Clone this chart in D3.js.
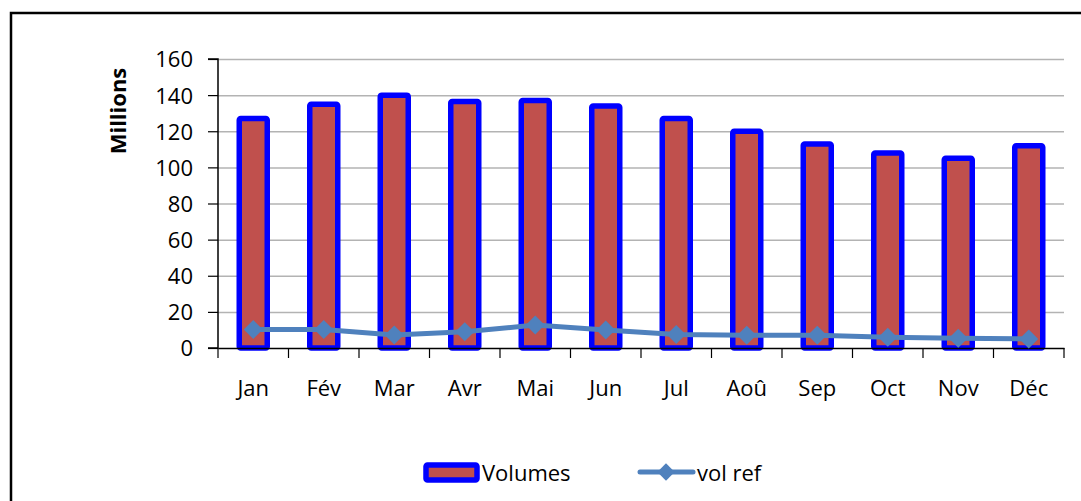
<!DOCTYPE html>
<head>
<meta charset="utf-8">
<style>
    body { margin: 0; background: #fff; }
    text { font-family: "Open Sans", "Liberation Sans", sans-serif; fill: #000; }
    .grid line { stroke: #b3b3b3; stroke-width: 1.5px; }
    .grid .domain { display: none; }
    .bar { fill: #c0504d; stroke: #0000ff; stroke-width: 5.5px; }
    .line1 { fill: none; stroke: #4f81bd; stroke-width: 5px; }
    .dot { fill: #4f81bd; }
</style>
<title>Volumes</title>
</head>

<body>
    <script src="https://d3js.org/d3.v7.min.js"></script>
    <script>
        // data
        const months = ['Jan', 'Fév', 'Mar', 'Avr', 'Mai', 'Jun', 'Jul', 'Aoû', 'Sep', 'Oct', 'Nov', 'Déc'];
        const volumes = [127, 135, 140, 136.5, 137, 134, 127, 120, 113, 108, 105, 112];
        const volRef = [10.3, 10.2, 7.2, 9, 12.7, 10, 7.5, 7, 7, 6, 5.4, 5];
        const yTicks = [0, 20, 40, 60, 80, 100, 120, 140, 160];

        const margin = { top: 59, right: 17, bottom: 153, left: 218 };
        const width = 1081 - margin.left - margin.right;
        const height = 501 - margin.top - margin.bottom;

        const svg = d3.select('body').append('svg')
            .attr('width', 1081)
            .attr('height', 501);

        // outer frame
        svg.append('rect')
            .attr('x', 11).attr('y', 13)
            .attr('width', 1100).attr('height', 520)
            .attr('fill', 'none')
            .attr('stroke', '#000')
            .attr('stroke-width', 2.5);

        const g = svg.append('g')
            .attr('transform', `translate(${margin.left},${margin.top})`);

        const x = d3.scaleBand().domain(months).range([0, width]);
        const y = d3.scaleLinear().domain([0, 160]).range([height, 0]);

        // gridlines
        g.append('g')
            .attr('class', 'grid')
            .call(d3.axisLeft(y).tickValues(yTicks.slice(1)).tickSize(-width).tickFormat(''));

        // bars
        const barW = 28;
        g.selectAll('.bar')
            .data(volumes)
            .enter().append('rect')
            .attr('class', 'bar')
            .attr('x', (d, i) => x(months[i]) + x.bandwidth() / 2 - barW / 2)
            .attr('y', d => y(d))
            .attr('width', barW)
            .attr('height', d => height - y(d))
            .attr('rx', 1.5);

        // y axis
        const yAxis = g.append('g')
            .call(d3.axisLeft(y).tickValues(yTicks).tickSize(10).tickPadding(15));
        yAxis.select('.domain').attr('stroke', '#000').attr('stroke-width', 1.5).attr('d', `M-10,0H0V${height}H-10`);
        yAxis.selectAll('line').attr('stroke', '#000').attr('stroke-width', 1.2);
        yAxis.selectAll('text').attr('font-size', '22px').attr('dy', '0.36em');

        // x axis
        const xAxis = g.append('g')
            .attr('transform', `translate(0,${height})`)
            .call(d3.axisBottom(x).tickSize(0).tickPadding(32));
        xAxis.select('.domain').attr('stroke', '#000').attr('stroke-width', 1.5);
        xAxis.selectAll('text').attr('font-size', '22px');
        // category boundaries
        g.append('g')
            .selectAll('line')
            .data(d3.range(months.length + 1))
            .enter().append('line')
            .attr('x1', i => i * x.step())
            .attr('x2', i => i * x.step())
            .attr('y1', height)
            .attr('y2', height + 10)
            .attr('stroke', '#000')
            .attr('stroke-width', 1.2);

        // line series
        const valueline = d3.line()
            .x((d, i) => x(months[i]) + x.bandwidth() / 2)
            .y(d => y(d));
        g.append('path')
            .datum(volRef)
            .attr('class', 'line1')
            .attr('d', valueline);
        const marker = d3.symbol().type(d3.symbolSquare).size(180);
        g.selectAll('.dot')
            .data(volRef)
            .enter().append('path')
            .attr('class', 'dot')
            .attr('d', marker)
            .attr('transform', (d, i) => `translate(${x(months[i]) + x.bandwidth() / 2},${y(d)}) rotate(45)`);

        // y title
        svg.append('text')
            .attr('transform', 'translate(126,111) rotate(-90)')
            .style('text-anchor', 'middle')
            .attr('font-size', '22px')
            .attr('font-weight', 'bold')
            .text('Millions');

        // legend
        const leg = svg.append('g');
        leg.append('rect')
            .attr('x', 426).attr('y', 465)
            .attr('width', 51).attr('height', 15)
            .attr('rx', 1.5)
            .attr('class', 'bar');
        leg.append('text')
            .attr('x', 482).attr('y', 481)
            .attr('font-size', '22px')
            .text('Volumes');
        leg.append('line')
            .attr('x1', 640).attr('x2', 693)
            .attr('y1', 472).attr('y2', 472)
            .attr('stroke', '#4f81bd')
            .attr('stroke-width', 5)
            .attr('stroke-linecap', 'round');
        leg.append('path')
            .attr('class', 'dot')
            .attr('transform', 'translate(666,472) rotate(45)')
            .attr('d', d3.symbol().type(d3.symbolSquare).size(150));
        leg.append('text')
            .attr('x', 697).attr('y', 481)
            .attr('font-size', '22px')
            .text('vol ref');
    </script>
</body>
